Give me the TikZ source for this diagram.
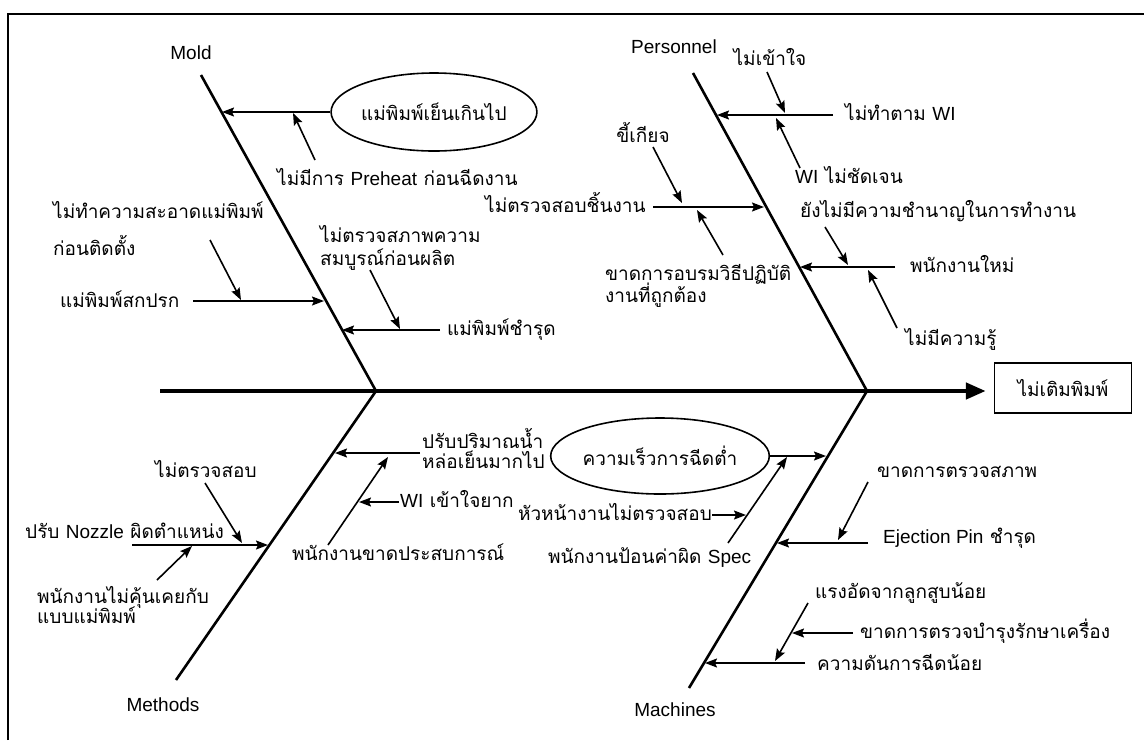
\documentclass[tikz,border=0pt]{standalone}
\usepackage{fontspec}
\setmainfont{Liberation Sans}
\newfontfamily\thf[Script=Thai]{Loma}
\usetikzlibrary{arrows.meta,shapes.geometric}
\tikzset{
  tx/.style={font=\thf\fontsize{19}{22}\selectfont, inner sep=0pt, anchor=west, text height=14pt, text depth=4pt},
  cat/.style={font=\fontsize{19}{22}\selectfont, inner sep=0pt},
  bone/.style={line width=2.6pt},
  arr/.style={line width=1.6pt, -{Stealth[length=12pt,width=9pt,inset=2pt]}},
  causeell/.style={ellipse, draw, line width=1.6pt, minimum width=190pt, minimum height=78pt, inner sep=0pt, font=\thf\fontsize{19}{22}\selectfont},
}
\begin{document}
\begin{tikzpicture}[x=1pt,y=-1pt]
\useasboundingbox (0,0) rectangle (1144,740);
\fill[white] (0,0) rectangle (1144,740);
% frame
\coordinate (fbl) at (8,740); \coordinate (ftl) at (8,14); \coordinate (ftr) at (1144,14);
\draw[line width=1.3pt] (fbl) -- (ftl) -- (ftr);

% spine and effect
\node[draw, line width=1.4pt, minimum width=137pt, minimum height=50pt, inner sep=0pt, font=\thf\fontsize{19}{22}\selectfont] (effect) at (1063,388) {ไม่เติมพิมพ์};
\coordinate (spst) at (160,391);
\draw[line width=4.5pt, -{Triangle[length=20pt,width=16pt]}] (spst) -- ([xshift=-8pt]effect.west |- spst);

% bones
\coordinate (moldtop) at (201,75);
\coordinate (j1) at (376,391);
\coordinate (perstop) at (693,73);
\coordinate (j2) at (867,391);
\coordinate (methend) at (176,680);
\coordinate (machend) at (689,688);
\draw[bone] (moldtop) -- (j1) -- (methend);
\draw[bone] (perstop) -- (j2) -- (machend);

% category labels
\node[cat] (mold) at (191,53) {Mold};
\node[cat] (pers) at (674,47) {Personnel};
\node[cat] (meth) at (163,705) {Methods};
\node[cat] (mach) at (675,710) {Machines};

% ---------------- Mold ----------------
\node[causeell] (e1) at (434,112) {แม่พิมพ์เย็นเกินไป};
\coordinate (m1tip) at (222,112);
\draw[arr] (e1.west) -- (m1tip);
\node[tx] (pre) at (277,180) {ไม่มีการ {\rmfamily Preheat} ก่อนฉีดงาน};
\coordinate (pretail) at (315,160); \coordinate (pretip) at (293,113);
\draw[arr] (pretail) -- (pretip);

\node[tx] (clean1) at (53,213) {ไม่ทำความสะอาดแม่พิมพ์};
\node[tx] (clean2) at (53,250) {ก่อนติดตั้ง};
\coordinate (cltail) at (210,240); \coordinate (cltip) at (241,300);
\draw[arr] (cltail) -- (cltip);
\node[tx] (dirty) at (60,302) {แม่พิมพ์สกปรก};
\coordinate (dirtytail) at (193,301); \coordinate (dirtytip) at (324,301);
\draw[arr] (dirtytail) -- (dirtytip);

\node[tx] (insp1) at (320,237) {ไม่ตรวจสภาพความ};
\node[tx] (insp2) at (320,260) {สมบูรณ์ก่อนผลิต};
\coordinate (insptail) at (370,270); \coordinate (insptip) at (400,329);
\draw[arr] (insptail) -- (insptip);
\node[tx] (dmg) at (447,330) {แม่พิมพ์ชำรุด};
\coordinate (dmgtail) at (440,330); \coordinate (dmgtip) at (342,330);
\draw[arr] (dmgtail) -- (dmgtip);

% ---------------- Personnel ----------------
\node[tx, anchor=center] (nu) at (770,60) {ไม่เข้าใจ};
\coordinate (nutail) at (767,72); \coordinate (nutip) at (785,113);
\draw[arr] (nutail) -- (nutip);
\node[tx] (nwi) at (845,115) {ไม่ทำตาม {\rmfamily WI}};
\coordinate (nwitail) at (833,115); \coordinate (nwitip) at (717,115);
\draw[arr] (nwitail) -- (nwitip);
\node[tx] (wiu) at (795,178) {{\rmfamily WI} ไม่ชัดเจน};
\coordinate (wiutail) at (800,168); \coordinate (wiutip) at (776,118);
\draw[arr] (wiutail) -- (wiutip);

\node[tx] (skill) at (800,212) {ยังไม่มีความชำนาญในการทำงาน};
\coordinate (skilltail) at (825,227); \coordinate (skilltip) at (848,265);
\draw[arr] (skilltail) -- (skilltip);
\node[tx] (newp) at (910,267) {พนักงานใหม่};
\coordinate (newptail) at (895,267); \coordinate (newptip) at (800,267);
\draw[arr] (newptail) -- (newptip);
\node[tx] (know) at (905,340) {ไม่มีความรู้};
\coordinate (knowtail) at (897,328); \coordinate (knowtip) at (868,270);
\draw[arr] (knowtail) -- (knowtip);

\node[tx, anchor=center] (lazy) at (643,137) {ขี้เกียจ};
\coordinate (lazytail) at (653,147); \coordinate (lazytip) at (682,203);
\draw[arr] (lazytail) -- (lazytip);
\node[tx] (noch) at (485,207) {ไม่ตรวจสอบชิ้นงาน};
\coordinate (nochtail) at (653,207); \coordinate (nochtip) at (764,207);
\draw[arr] (nochtail) -- (nochtip);
\node[tx] (train1) at (605,275) {ขาดการอบรมวิธีปฏิบัติ};
\node[tx] (train2) at (605,297) {งานที่ถูกต้อง};
\coordinate (traintail) at (723,255); \coordinate (traintip) at (697,210);
\draw[arr] (traintail) -- (traintip);

% ---------------- Methods ----------------
\node[tx] (cool1) at (422,443) {ปรับปริมาณน้ำ};
\node[tx] (cool2) at (422,463) {หล่อเย็นมากไป};
\coordinate (cooltail) at (420,453); \coordinate (cooltip) at (335,453);
\draw[arr] (cooltail) -- (cooltip);
\node[tx] (exp) at (292,555) {พนักงานขาดประสบการณ์};
\coordinate (exptail) at (328,545); \coordinate (exptip) at (388,457);
\draw[arr] (exptail) -- (exptip);
\node[tx] (wih) at (400,502) {{\rmfamily WI} เข้าใจยาก};
\coordinate (wihtail) at (399,502); \coordinate (wihtip) at (359,502);
\draw[arr] (wihtail) -- (wihtip);

\node[tx] (nochk) at (155,472) {ไม่ตรวจสอบ};
\coordinate (nochktail) at (205,483); \coordinate (nochktip) at (242,543);
\draw[arr] (nochktail) -- (nochktip);
\node[tx] (nozz) at (25,533) {ปรับ {\rmfamily Nozzle} ผิดตำแหน่ง};
\coordinate (nozztail) at (132,545); \coordinate (nozztip) at (268,545);
\draw[arr] (nozztail) -- (nozztip);
\node[tx] (unf1) at (37,598) {พนักงานไม่คุ้นเคยกับ};
\node[tx] (unf2) at (37,618) {แบบแม่พิมพ์};
\coordinate (unftail) at (157,580); \coordinate (unftip) at (192,546);
\draw[arr] (unftail) -- (unftip);

% ---------------- Machines ----------------
\node[causeell, minimum width=186pt, minimum height=76pt] (e2) at (660,456) {ความเร็วการฉีดต่ำ};
\coordinate (e2tip) at (826,456);
\draw[arr] (e2.east) -- (e2tip);
\node[tx] (spec) at (548,558) {พนักงานป้อนค่าผิด {\rmfamily Spec}};
\coordinate (spectail) at (728,543); \coordinate (spectip) at (787,457);
\draw[arr] (spectail) -- (spectip);
\node[tx, anchor=east] (sup) at (712,515) {หัวหน้างานไม่ตรวจสอบ};
\coordinate (suptip) at (746,515);
\draw[arr] (sup.east) -- (suptip);

\node[tx] (lackc) at (877,472) {ขาดการตรวจสภาพ};
\coordinate (lackctail) at (868,482); \coordinate (lackctip) at (838,540);
\draw[arr] (lackctail) -- (lackctip);
\node[tx] (ejp) at (883,538) {{\rmfamily Ejection Pin} ชำรุด};
\coordinate (ejptail) at (868,543); \coordinate (ejptip) at (777,543);
\draw[arr] (ejptail) -- (ejptip);

\node[tx] (pist) at (815,593) {แรงอัดจากลูกสูบน้อย};
\coordinate (pisttail) at (808,603); \coordinate (pisttip) at (775,661);
\draw[arr] (pisttail) -- (pisttip);
\node[tx] (maint) at (860,633) {ขาดการตรวจบำรุงรักษาเครื่อง};
\coordinate (mainttail) at (853,633); \coordinate (mainttip) at (792,633);
\draw[arr] (mainttail) -- (mainttip);
\node[tx] (press) at (817,665) {ความดันการฉีดน้อย};
\coordinate (presstail) at (805,663); \coordinate (presstip) at (705,663);
\draw[arr] (presstail) -- (presstip);
\end{tikzpicture}
\end{document}
